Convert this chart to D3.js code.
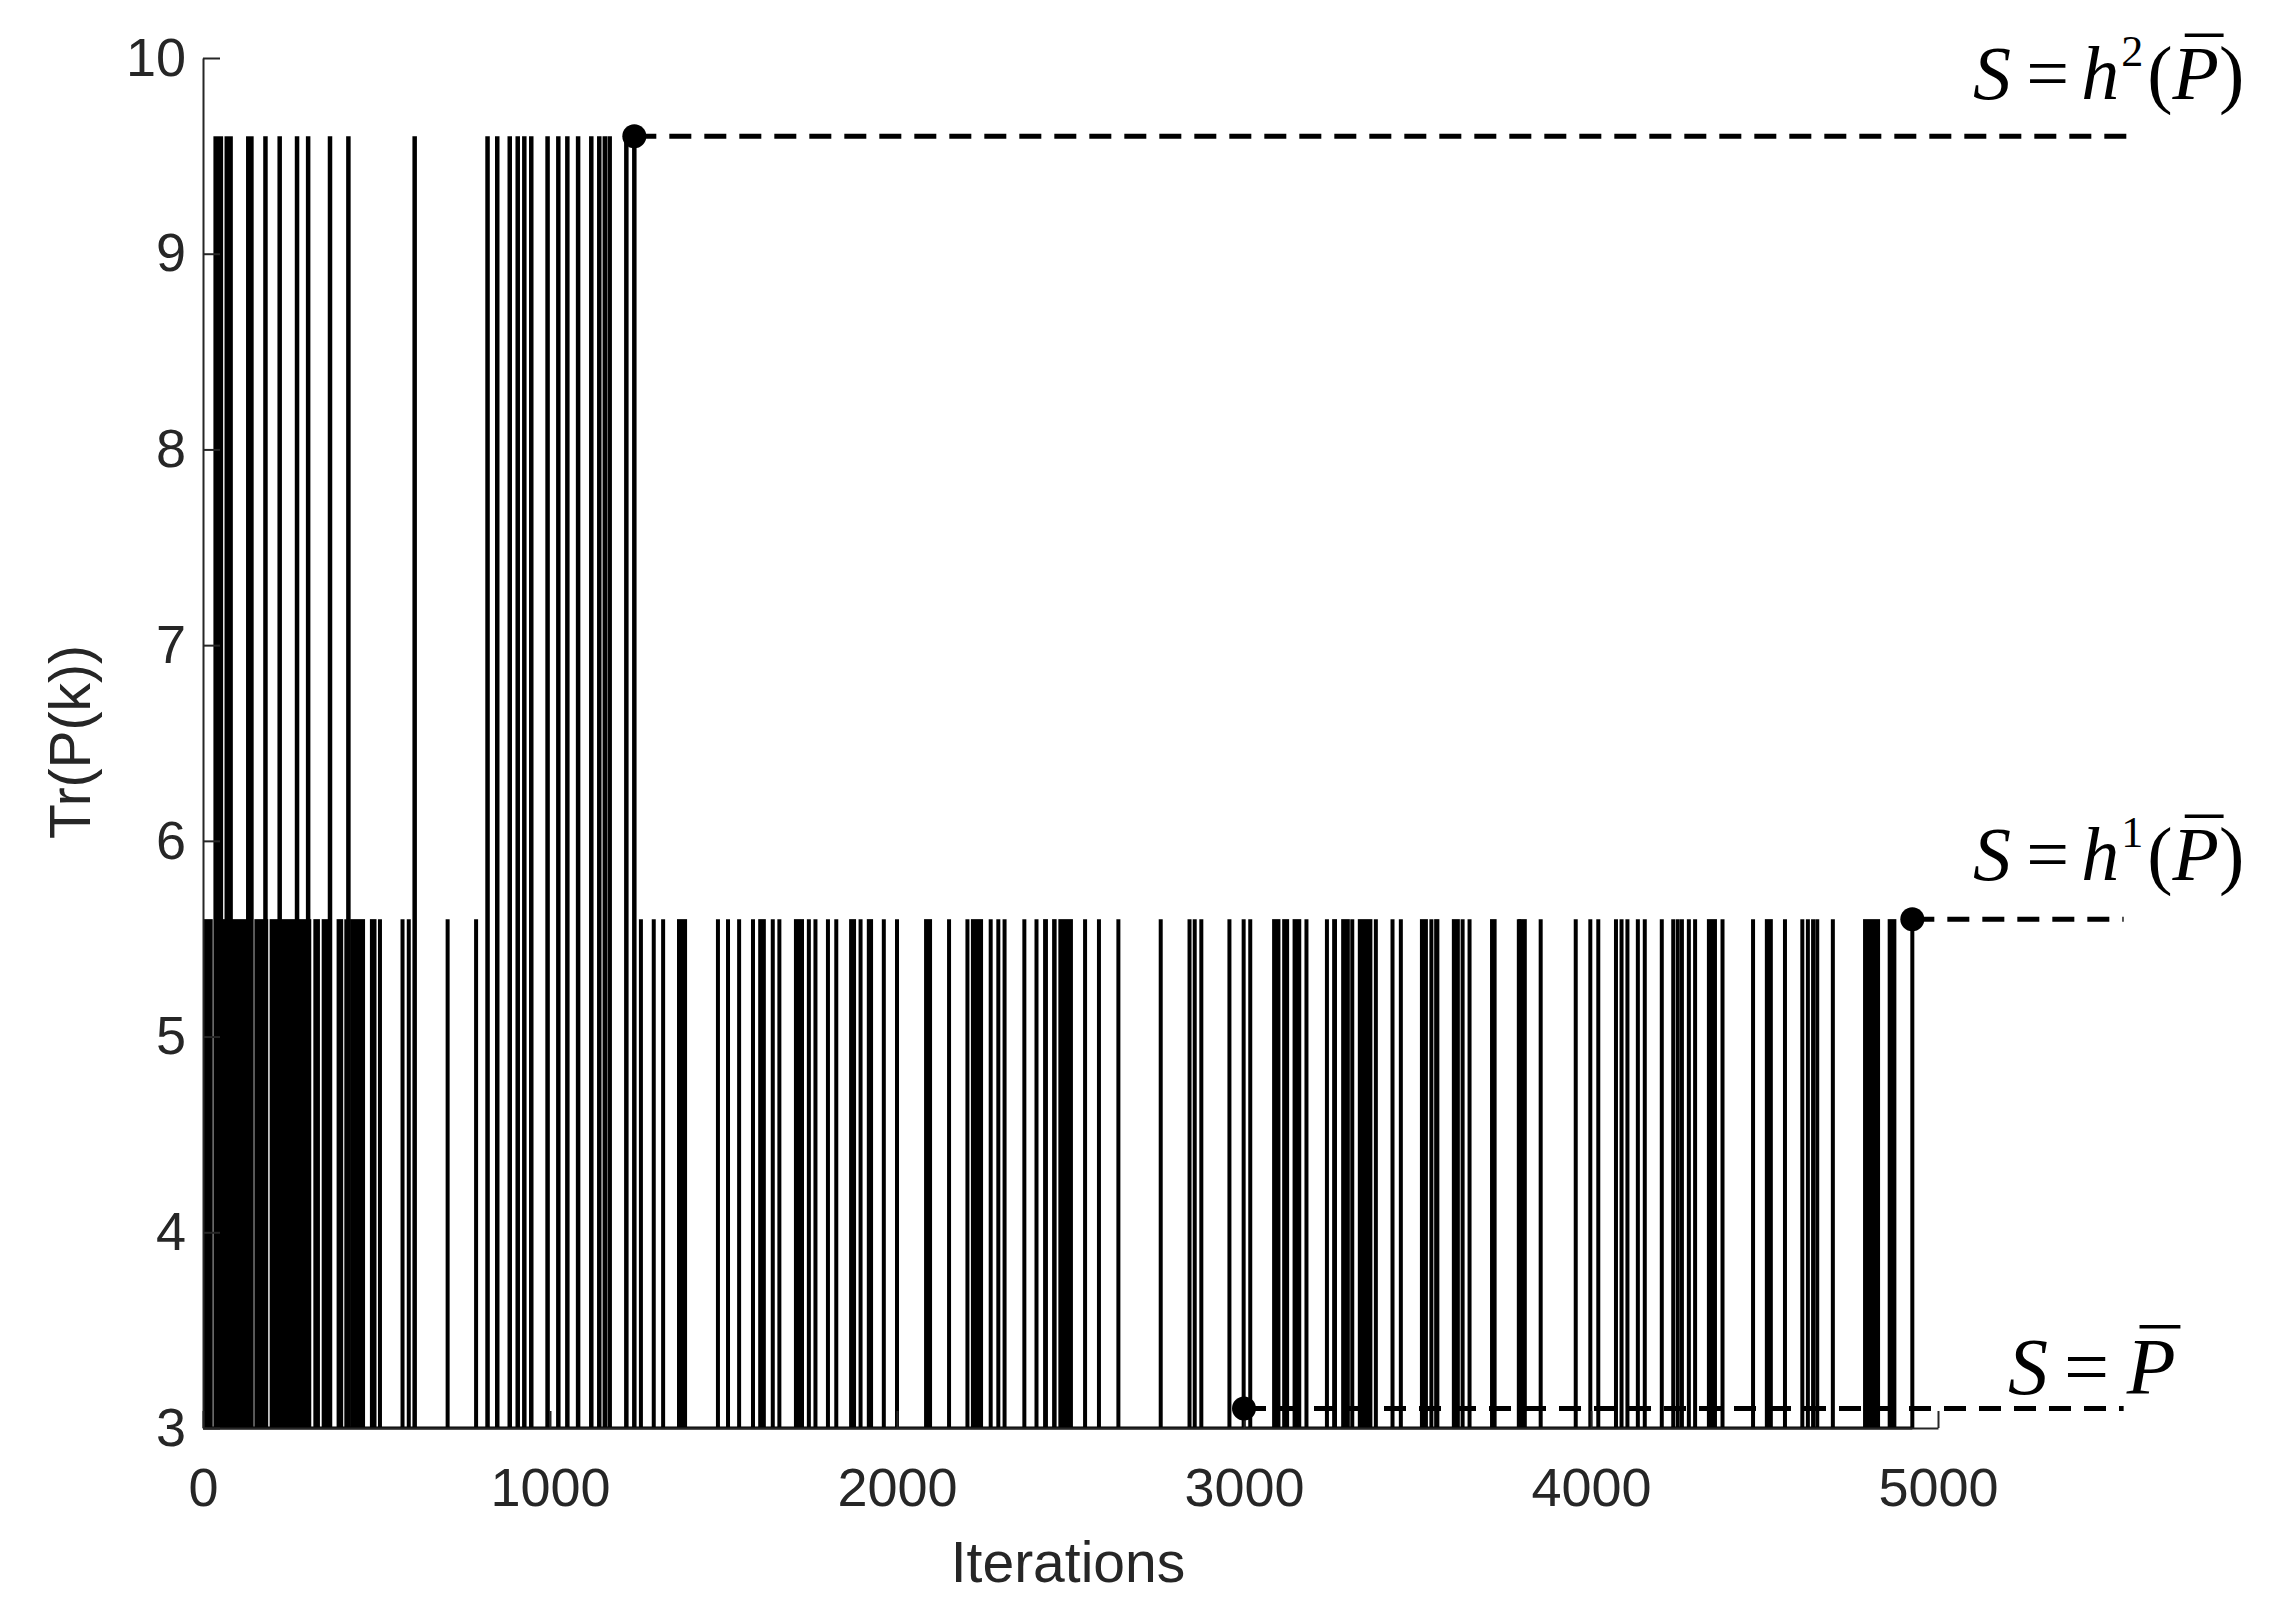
<!DOCTYPE html>
<html>
<head>
<meta charset="utf-8">
<script src="https://cdn.jsdelivr.net/npm/d3@7"></script>
<style>
    html, body { margin: 0; padding: 0; background: #fff; }
    svg { display: block; }
</style>
</head>
<body>
<div id="chart"></div>
<script>
// trace levels of Tr(P(k))
var baseLevel = 3.0;
var midLevel = 5.6;
var topLevel = 9.6;
var lastIter = 4926;

// iterations where the trace jumps to 5.6 for a single step (thin lines)
var spikes56 = [413, 510, 575, 593, 705, 787, 1262, 1299, 1326, 1484, 1513, 1545, 1585, 1642, 1661,
    1746, 1765, 1801, 1825, 1895, 1962, 2000, 2150, 2203, 2270, 2292, 2310, 2367, 2402,
    2542, 2582, 2638, 2760, 2843, 2858, 2877, 2958, 2999, 3018, 3180, 3239, 3312, 3380,
    3428, 3452, 3540, 3630, 3650, 3792, 3855, 3956, 3998, 4021, 4072, 4088, 4105, 4135,
    4155, 4204, 4237, 4250, 4262, 4282, 4300, 4379, 4467, 4559, 4609, 4625, 4640, 4652,
    4697, 4926];

// iteration ranges where the trace chatters between 3 and 5.6 (solid black)
var blocks56 = [[0, 28], [32, 144], [148, 188], [192, 312], [318, 337], [342, 371], [385, 404],
    [424, 467], [481, 500], [1366, 1395], [1600, 1622], [1703, 1732], [1862, 1882], [1913, 1931],
    [2078, 2101], [2213, 2248], [2421, 2435], [2447, 2460], [2465, 2507], [3081, 3105],
    [3110, 3130], [3140, 3165], [3254, 3268], [3280, 3305], [3328, 3370], [3507, 3530],
    [3548, 3563], [3599, 3622], [3709, 3728], [3790, 3815], [4334, 4363], [4501, 4524],
    [4784, 4833], [4855, 4880]];

// jumps up to 9.6
var spikes96 = [180, 221, 271, 303, 366, 419, 610, 820, 848, 884, 907, 926, 946, 993, 1024,
    1050, 1081, 1119, 1142, 1158, 1172, 1220, 1243];
var blocks96 = [[30, 58], [62, 86], [124, 146]];

// marked points S and dashed guides
var markerIter = [1243, 4926, 3000];
var markerLevel = [9.6, 5.6, 3.1];
var dashEndIter = [5575, 5535, 5535];
var markerSup = ["2", "1", null];

var xTicks = [0, 1000, 2000, 3000, 4000, 5000];
var yTicks = [3, 4, 5, 6, 7, 8, 9, 10];

var W = 2273, H = 1619;
var axisColor = "#262626";

var svg = d3.select("#chart").append("svg")
    .attr("width", W)
    .attr("height", H)
    .style("background", "#fff");

var x = d3.scaleLinear().domain([0, 5000]).range([203, 1938]);
var y = d3.scaleLinear().domain([3, 10]).range([1428, 58]);

// signal
var sig = svg.append("g");

sig.append("line")
    .attr("x1", x(0)).attr("x2", x(lastIter))
    .attr("y1", y(baseLevel)).attr("y2", y(baseLevel))
    .attr("stroke", "#000").attr("stroke-width", 3);

function drawBlocks(list, level) {
    sig.append("g").selectAll("rect")
        .data(list).enter()
        .append("rect")
        .attr("x", function(d) { return x(d[0]); })
        .attr("width", function(d) { return Math.max(3, x(d[1]) - x(d[0])); })
        .attr("y", y(level))
        .attr("height", y(baseLevel) - y(level))
        .attr("fill", "#000");
}

function drawSpikes(list, level, w) {
    sig.append("g").selectAll("line")
        .data(list).enter()
        .append("line")
        .attr("x1", function(d) { return x(d); })
        .attr("x2", function(d) { return x(d); })
        .attr("y1", y(baseLevel))
        .attr("y2", y(level))
        .attr("stroke", "#000")
        .attr("stroke-width", w);
}

drawBlocks(blocks56, midLevel);
drawSpikes(spikes56, midLevel, 4);
drawBlocks(blocks96, topLevel);
drawSpikes(spikes96, topLevel, 4.5);

// axes
var yAxis = d3.axisLeft(y)
    .tickValues(yTicks)
    .tickFormat(d3.format("d"))
    .tickSizeInner(-17)
    .tickSizeOuter(0)
    .tickPadding(17);

var xAxis = d3.axisBottom(x)
    .tickValues(xTicks)
    .tickFormat(d3.format("d"))
    .tickSizeInner(-17)
    .tickSizeOuter(0)
    .tickPadding(40);

var gy = svg.append("g")
    .attr("transform", "translate(" + x(0) + ",0)")
    .call(yAxis);

var gx = svg.append("g")
    .attr("transform", "translate(0," + y(3) + ")")
    .call(xAxis);

[gx, gy].forEach(function(g) {
    g.select(".domain").attr("stroke", axisColor).attr("stroke-width", 2);
    g.selectAll(".tick line").attr("stroke", axisColor).attr("stroke-width", 2);
    g.selectAll(".tick text")
        .attr("fill", axisColor)
        .attr("font-family", "'Liberation Sans', Arial, sans-serif")
        .attr("font-size", 54);
});

svg.append("text")
    .attr("x", 1068)
    .attr("y", 1582)
    .attr("text-anchor", "middle")
    .attr("font-family", "'Liberation Sans', Arial, sans-serif")
    .attr("font-size", 57)
    .attr("fill", axisColor)
    .text("Iterations");

svg.append("text")
    .attr("transform", "translate(90,742) rotate(-90)")
    .attr("text-anchor", "middle")
    .attr("font-family", "'Liberation Sans', Arial, sans-serif")
    .attr("font-size", 57)
    .attr("fill", axisColor)
    .text("Tr(P(k))");

// dashed guides and markers
var marks = markerIter.map(function(k, i) {
    return {k: k, v: markerLevel[i], end: dashEndIter[i], sup: markerSup[i]};
});

svg.append("g").selectAll("line")
    .data(marks).enter()
    .append("line")
    .attr("x1", function(d) { return x(d.k); })
    .attr("x2", function(d) { return x(d.end); })
    .attr("y1", function(d) { return y(d.v); })
    .attr("y2", function(d) { return y(d.v); })
    .attr("stroke", "#000")
    .attr("stroke-width", 5)
    .attr("stroke-dasharray", "22,13");

svg.append("g").selectAll("circle")
    .data(marks).enter()
    .append("circle")
    .attr("cx", function(d) { return x(d.k); })
    .attr("cy", function(d) { return y(d.v); })
    .attr("r", 12)
    .attr("fill", "#000");

// equation labels, S = h^n(P-bar)
function eqLabel(x0, yBase, sup, size) {
    var t = svg.append("text")
        .attr("x", x0)
        .attr("y", yBase)
        .attr("font-family", "'Liberation Serif', 'Times New Roman', serif")
        .attr("font-size", size)
        .attr("fill", "#000");
    t.append("tspan").attr("font-style", "italic").text("S");
    t.append("tspan").attr("dx", size * 0.2).text("=");
    if (sup) {
        t.append("tspan").attr("dx", size * 0.16).attr("font-style", "italic").text("h");
        t.append("tspan").attr("dx", 2).attr("dy", -33).attr("font-size", size * 0.58).text(sup);
        t.append("tspan").attr("dx", 4).attr("dy", 33).text("(");
        t.append("tspan").attr("font-style", "italic").text("P");
        t.append("tspan").text(")");
    } else {
        t.append("tspan").attr("dx", size * 0.22).attr("font-style", "italic").text("P");
    }
    var node = t.node();
    var i = node.textContent.indexOf("P");
    var s = node.getStartPositionOfChar(i), e = node.getEndPositionOfChar(i);
    svg.append("line")
        .attr("x1", s.x + size * 0.16).attr("x2", e.x + size * 0.06)
        .attr("y1", yBase - size * 0.84).attr("y2", yBase - size * 0.84)
        .attr("stroke", "#000")
        .attr("stroke-width", 3.5);
}

eqLabel(1973, 99, markerSup[0], 76);
eqLabel(1973, 880, markerSup[1], 76);
eqLabel(2008, 1394, markerSup[2], 80);
</script>
</body>
</html>
